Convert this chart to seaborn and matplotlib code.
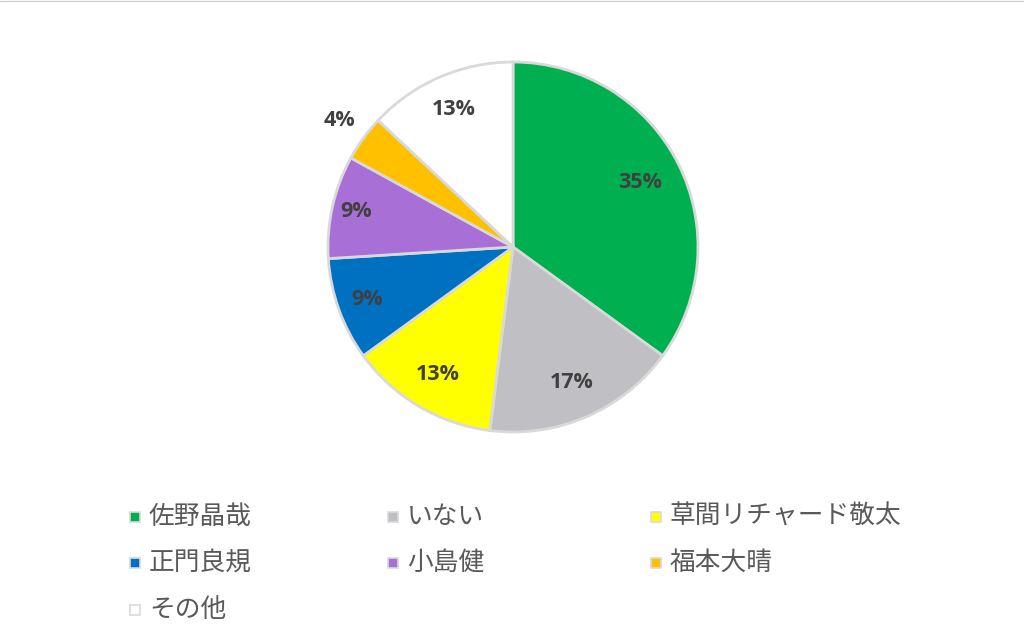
import numpy as np
import matplotlib
matplotlib.use("Agg")
import matplotlib.pyplot as plt
from matplotlib.patches import Rectangle
import seaborn as sns

# data
names = ["佐野晶哉", "いない", "草間リチャード敬太", "正門良規", "小島健", "福本大晴", "その他"]
shares = [35, 17, 13, 9, 9, 4, 13]
colors = ["#00b050", "#c0c0c4", "#ffff00", "#0070c0", "#a86fd6", "#ffc000", "#ffffff"]
# how far from the centre each percent label sits (fraction of radius)
label_r = [0.77, 0.80, 0.80, 0.84, 0.87, 1.16, 0.81]

sns.set_theme(style="white")
plt.rcParams["font.family"] = ["Noto Sans CJK JP", "DejaVu Sans"]

fig = plt.figure(figsize=(10.24, 6.44), dpi=100)
fig.patch.set_facecolor("white")

# pie centre ~ (513, 247) px, radius ~185 px
cx, cy, r = 513, 247, 185
W, H = 1024, 644
ax = fig.add_axes([(cx - r) / W, (H - cy - r) / H, 2 * r / W, 2 * r / H])

wedges, _ = ax.pie(shares, colors=colors, startangle=90, counterclock=False,
                   wedgeprops=dict(edgecolor="#d9d9d9", linewidth=2))
for w in wedges:
    w.set_clip_on(False)
ax.set_xlim(-1, 1)
ax.set_ylim(-1, 1)
ax.set_aspect("equal")
ax.axis("off")

for w, val, rr in zip(wedges, shares, label_r):
    ang = np.deg2rad((w.theta1 + w.theta2) / 2)
    ax.text(rr * np.cos(ang), rr * np.sin(ang), f"{val}%", ha="center", va="center",
            fontsize=15.5, fontweight="bold", color="#404040",
            family=["Open Sans", "DejaVu Sans"])

# legend, 3 columns, row-major
col_x = [130, 388, 651]
row_y = [517, 563, 610]
for i, (nm, c) in enumerate(zip(names, colors)):
    x = col_x[i % 3]
    y = row_y[i // 3]
    sq = 10
    fig.patches.append(Rectangle((x / W, (H - y - sq / 2) / H), sq / W, sq / H,
                                 transform=fig.transFigure, facecolor=c,
                                 edgecolor="#d9d9d9", linewidth=1.2))
    fig.text((x + 19) / W, (H - y) / H, nm, ha="left", va="center",
             fontsize=18.5, color="#595959")

# thin top border line as in the screenshot
fig.add_artist(plt.Line2D([0, 1], [1 - 1 / H, 1 - 1 / H], transform=fig.transFigure,
                          color="#d0d0d0", linewidth=1))

fig.savefig("out.png", dpi=100)
